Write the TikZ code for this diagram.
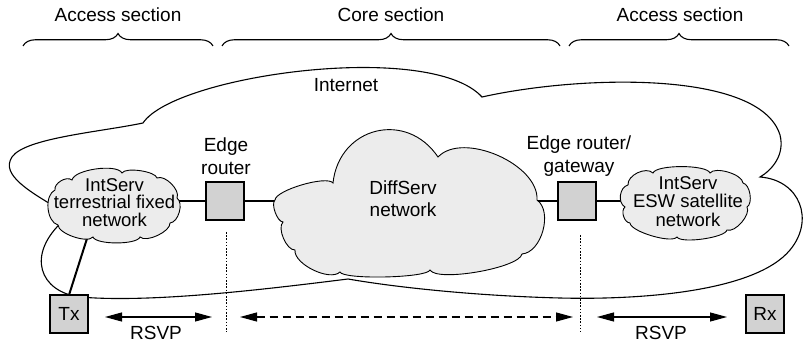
\documentclass[tikz,border=0pt]{standalone}
\usepackage{fontspec}
\setmainfont{Liberation Sans}
\usetikzlibrary{decorations.pathreplacing,arrows.meta}
\definecolor{cloudgray}{gray}{0.925}
\definecolor{boxgray}{gray}{0.825}
\begin{document}
\begin{tikzpicture}[x=1pt,y=-1pt,
  lbl/.style={font=\fontsize{19}{#1}\selectfont, align=center, inner sep=0pt, outer sep=0pt},
  lbl/.default=22,
  clbl/.style={font=\fontsize{18.5}{#1}\selectfont, align=center, inner sep=0pt, outer sep=0pt},
  cloudshape/.style={draw, fill=cloudgray, line width=0.9pt, line join=miter},
  puff/.style={bend left=70, looseness=#1},
  rbox/.style={draw, fill=boxgray, line width=2.2pt, minimum width=38pt, minimum height=38pt, inner sep=0pt, outer sep=0pt, font=\fontsize{19}{22}\selectfont},
  conn/.style={line width=2pt},
  outline/.style={line width=1.1pt},
  sectbrace/.style={decorate, decoration={brace, amplitude=12.5pt}, line width=1.1pt},
  vdot/.style={line width=1pt, dash pattern=on 1.6pt off 1.6pt},
  dbl/.style={line width=1.1pt, {Triangle[length=17pt,width=9pt]}-{Triangle[length=17pt,width=9pt]}},
  dashdbl/.style={dbl, dash pattern=on 8pt off 5pt}
]
\useasboundingbox (0,0) rectangle (805,344);

% section braces and titles
\draw[sectbrace] (23,46) -- (213,46);
\draw[sectbrace] (222,46) -- (560,46);
\draw[sectbrace] (569,46) -- (789,46);
\node[lbl, anchor=base] (s1) at (118,21.7) {Access section};
\node[lbl, anchor=base] (s2) at (391,21.7) {Core section};
\node[lbl, anchor=base] (s3) at (680,21.7) {Access section};

% Internet outline
\draw[outline] (64,212) .. controls (30,192) and (0,175) .. (12,157)
  .. controls (25,138) and (100,132) .. (143,123)
  .. controls (175,75) and (430,40) .. (482,97)
  .. controls (580,75) and (760,70) .. (780,135)
  .. controls (785,155) and (772,170) .. (760,177)
  .. controls (800,180) and (815,220) .. (790,250)
  .. controls (755,292) and (640,300) .. (560,298)
  .. controls (480,296) and (400,288) .. (348,279)
  .. controls (260,290) and (150,303) .. (80,297)
  .. controls (40,292) and (25,255) .. (64,220);
\node[lbl, anchor=base] (inet) at (346,91.7) {Internet};

% routers and hosts
\node[rbox] (er) at (225,201) {};
\node[rbox] (gw) at (577,201) {};
\node[rbox] (tx) at (69,314) {Tx};
\node[rbox] (rx) at (765,314) {Rx};
\node[lbl=23] (erl) at (226,156.5) {Edge\\router};
\node[lbl=23] (gwl) at (579,156.5) {Edge router/\\gateway};

% cloud anchor points (links run under the clouds)
\coordinate (cLc) at (114.5,204);
\coordinate (cLs) at (91,226);
\coordinate (cDc) at (405,200);
\coordinate (cEc) at (686,204);

% links
\draw[conn] (er.west) -- (er.west -| cLc);
\draw[conn] (er.east) -- (er.east -| cDc);
\draw[conn] (gw.west) -- (gw.west -| cDc);
\draw[conn] (gw.east) -- (gw.east -| cEc);
\draw[conn] (tx.north) -- (cLs);

% IntServ terrestrial cloud
\draw[cloudshape] (55,190) to[puff=0.9] (72,180) to[puff=0.55] (122,173)
  to[puff=0.5] (157,178) to[puff=0.78] (177,198) to[puff=0.84] (170,223)
  to[puff=0.66] (140,237) to[puff=0.46] (93,237) to[puff=0.6] (58,225)
  to[puff=0.88] (55,190) -- cycle;
% DiffServ cloud
\draw[cloudshape] (275,200) to[puff=0.42] (333,183) to[puff=1.34] (438,157)
  to[puff=0.85] (537,200) to[puff=0.9] (522,254) to[puff=0.39] (430,270)
  to[puff=0.24] (340,272) to[puff=0.72] (295,250) to[puff=0.72] (283,222)
  to[puff=0.63] (275,200) -- cycle;
% IntServ ESW satellite cloud
\draw[cloudshape] (628,185) to[puff=0.9] (653,173) to[puff=0.41] (710,173)
  to[puff=0.64] (743,183) to[puff=0.75] (747,207) to[puff=0.72] (727,230)
  to[puff=0.4] (677,237) to[puff=0.45] (630,223) to[puff=0.9] (625,207)
  to[puff=1.0] (628,185) -- cycle;

\node[clbl=17.5] (tL) at (114.5,202.5) {IntServ\\terrestrial fixed\\network};
\node[lbl=22] (tD) at (403,199) {DiffServ\\network};
\node[clbl=18.5] (tE) at (688,201.5) {IntServ\\ESW satellite\\network};

% dotted section boundaries
\coordinate (d1a) at (226,232);
\coordinate (d1b) at (226,332);
\coordinate (d2a) at (580,235);
\coordinate (d2b) at (580,332);
\draw[vdot] (d1a) -- (d1b);
\draw[vdot] (d2a) -- (d2b);

% signalling arrows
\coordinate (a1) at (105,317);
\coordinate (a2) at (212,317);
\coordinate (b1) at (240,317);
\coordinate (b2) at (573,317);
\coordinate (c1) at (597,317);
\coordinate (c2) at (727,317);
\draw[dbl] (a1) -- (a2);
\draw[dashdbl] (b1) -- (b2);
\draw[dbl] (c1) -- (c2);
\node[lbl, anchor=base] (r1) at (156,339.5) {RSVP};
\node[lbl, anchor=base] (r2) at (661,339.5) {RSVP};
\end{tikzpicture}
\end{document}
